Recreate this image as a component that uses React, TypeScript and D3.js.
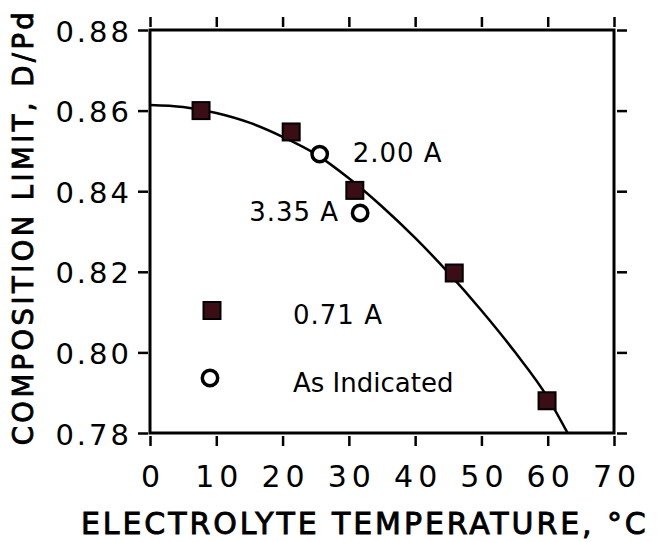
import React, { useEffect, useRef } from "react";
import * as d3 from "d3";

const xTicks = [0, 10, 20, 30, 40, 50, 60, 70];
const yTicks = [0.78, 0.8, 0.82, 0.84, 0.86, 0.88];

// 0.71 A runs (filled squares)
const squareTemps = [7.7, 21.3, 30.9, 45.9, 59.9];
const squareValues = [0.86, 0.8547, 0.8402, 0.8197, 0.788];

// other currents (open circles)
const circleTemps = [25.6, 31.7];
const circleValues = [0.8492, 0.8346];
const circleLabels = ["2.00 A", "3.35 A"];

// fitted curve
const curveTemps = [0, 5, 10, 15, 20, 25, 30, 35, 40, 45, 50, 55, 60, 63];
const curveValues = [
  0.8614, 0.8609, 0.8594, 0.857, 0.8535, 0.8492, 0.8432, 0.8362, 0.8284,
  0.8198, 0.8104, 0.8002, 0.7888, 0.78,
];

const legendLabels = ["0.71 A", "As Indicated"];

const FONT = "DejaVu Sans";
const SQUARE_FILL = "#3a0e14";

export default function App() {
  const ref = useRef<SVGSVGElement>(null);

  useEffect(() => {
    const svg = d3.select(ref.current);
    svg.selectAll("*").remove();

    const x = d3.scaleLinear().domain([0, 70]).range([150, 614]);
    const y = d3.scaleLinear().domain([0.78, 0.88]).range([433, 30]);

    // frame
    svg
      .append("rect")
      .attr("x", x(0))
      .attr("y", y(0.88))
      .attr("width", x(70) - x(0))
      .attr("height", y(0.78) - y(0.88))
      .attr("fill", "none")
      .attr("stroke", "black")
      .attr("stroke-width", 3);

    // bottom axis
    const gx = svg
      .append("g")
      .attr("transform", "translate(0,436)")
      .call(
        d3
          .axisBottom(x)
          .tickValues(xTicks)
          .tickSize(10)
          .tickSizeOuter(0)
          .tickPadding(20)
          .tickFormat((d) => String(d))
      );
    gx.select(".domain").remove();
    gx.attr("font-family", FONT).attr("font-size", 30);
    gx.selectAll("line").attr("stroke-width", 2.5);
    gx.selectAll("text").attr("letter-spacing", 5).attr("dx", 2.5);

    // left axis
    const gy = svg
      .append("g")
      .attr("transform", "translate(148,0)")
      .call(
        d3
          .axisLeft(y)
          .tickValues(yTicks)
          .tickSize(10)
          .tickSizeOuter(0)
          .tickPadding(6)
          .tickFormat(d3.format(".2f"))
      );
    gy.select(".domain").remove();
    gy.attr("font-family", FONT).attr("font-size", 29);
    gy.selectAll("line").attr("stroke-width", 2.5);
    gy.selectAll("text").attr("letter-spacing", 3).attr("dy", "0.38em");

    // top and right ticks
    const gt = svg
      .append("g")
      .attr("transform", "translate(0,27)")
      .call(d3.axisTop(x).tickValues(xTicks).tickSize(10).tickSizeOuter(0).tickFormat(() => ""));
    gt.select(".domain").remove();
    gt.selectAll("line").attr("stroke-width", 2.5);

    const gr = svg
      .append("g")
      .attr("transform", "translate(617,0)")
      .call(d3.axisRight(y).tickValues(yTicks).tickSize(10).tickSizeOuter(0).tickFormat(() => ""));
    gr.select(".domain").remove();
    gr.selectAll("line").attr("stroke-width", 2.5);

    // curve
    const line = d3
      .line<number>()
      .x((d, i) => x(curveTemps[i]))
      .y((d) => y(d))
      .curve(d3.curveMonotoneX);

    svg
      .append("path")
      .attr("d", line(curveValues))
      .attr("fill", "none")
      .attr("stroke", "black")
      .attr("stroke-width", 2.5);

    // squares
    const sq = 17;
    svg
      .selectAll("rect.sq")
      .data(squareValues)
      .enter()
      .append("rect")
      .attr("class", "sq")
      .attr("x", (d, i) => x(squareTemps[i]) - sq / 2)
      .attr("y", (d) => y(d) - sq / 2)
      .attr("width", sq)
      .attr("height", sq)
      .attr("fill", SQUARE_FILL)
      .attr("stroke", "black")
      .attr("stroke-width", 2);

    // circles
    svg
      .selectAll("circle.pt")
      .data(circleValues)
      .enter()
      .append("circle")
      .attr("class", "pt")
      .attr("cx", (d, i) => x(circleTemps[i]))
      .attr("cy", (d) => y(d))
      .attr("r", 7.7)
      .attr("fill", "white")
      .attr("stroke", "black")
      .attr("stroke-width", 3.5);

    svg
      .selectAll("text.ann")
      .data(circleLabels)
      .enter()
      .append("text")
      .attr("class", "ann")
      .attr("x", (d, i) => x(circleTemps[i]) + (i === 0 ? 33 : -21))
      .attr("y", (d, i) => y(circleValues[i]) + 8)
      .attr("text-anchor", (d, i) => (i === 0 ? "start" : "end"))
      .attr("font-family", FONT)
      .attr("font-size", 26)
      .attr("letter-spacing", 1)
      .text((d) => d);

    // legend
    const legend = svg.append("g");
    legend
      .append("rect")
      .attr("x", 212 - sq / 2)
      .attr("y", 310.5 - sq / 2)
      .attr("width", sq)
      .attr("height", sq)
      .attr("fill", SQUARE_FILL)
      .attr("stroke", "black")
      .attr("stroke-width", 2);
    legend
      .append("circle")
      .attr("cx", 210)
      .attr("cy", 378)
      .attr("r", 7.7)
      .attr("fill", "white")
      .attr("stroke", "black")
      .attr("stroke-width", 3.5);
    legend
      .selectAll("text")
      .data(legendLabels)
      .enter()
      .append("text")
      .attr("x", 293)
      .attr("y", (d, i) => (i === 0 ? 324 : 392))
      .attr("font-family", FONT)
      .attr("font-size", 26)
      .attr("letter-spacing", (d, i) => (i === 0 ? 1 : 0))
      .text((d) => d);

    // axis titles
    svg
      .append("text")
      .attr("x", 81)
      .attr("y", 534)
      .attr("font-family", FONT)
      .attr("font-size", 30)
      .attr("letter-spacing", 2.9)
      .attr("stroke", "black")
      .attr("stroke-width", 0.9)
      .text("ELECTROLYTE TEMPERATURE, °C");

    svg
      .append("text")
      .attr("transform", "translate(33,227) rotate(-90)")
      .attr("text-anchor", "middle")
      .attr("font-family", FONT)
      .attr("font-size", 27.5)
      .attr("letter-spacing", 3.4)
      .attr("stroke", "black")
      .attr("stroke-width", 0.9)
      .text("COMPOSITION LIMIT, D/Pd");
  }, []);

  return (
    <svg
      ref={ref}
      width={668}
      height={542}
      style={{ position: "absolute", left: 0, top: 0, background: "white" }}
    />
  );
}
